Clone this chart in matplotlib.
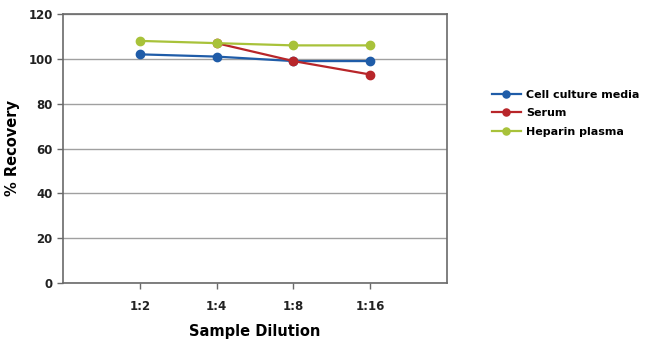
import matplotlib
matplotlib.use("Agg")
import matplotlib.pyplot as plt

plt.rcParams['font.family'] = ['DejaVu Sans']
plt.rcParams['font.weight'] = 'bold'

# 数据
dilutions = ["1:2", "1:4", "1:8", "1:16"]
cell_media = [102, 101, 99, 99]
serum = [float("nan"), 107, 99, 93]
heparin = [108, 107, 106, 106]

x = [1, 2, 3, 4]

fig = plt.figure(figsize=(6.5, 3.5), dpi=100)
ax = fig.add_axes([63 / 650, 1 - 283 / 350, 384 / 650, 269 / 350])

ax.plot(x, cell_media, color="#1f5ca8", marker="o", markersize=6, lw=1.6, label="Cell culture media")
ax.plot(x, serum, color="#b8262a", marker="o", markersize=6, lw=1.6, label="Serum")
ax.plot(x, heparin, color="#a8c23a", marker="o", markersize=6, lw=1.6, label="Heparin plasma")

ax.set_xlim(0, 5)
ax.set_ylim(0, 120)
ax.set_yticks(range(0, 121, 20))
ax.set_xticks(x)
ax.set_xticklabels(dilutions)
ax.yaxis.grid(True, color="#a0a0a0", lw=1)
ax.set_axisbelow(True)
for s in ax.spines.values():
    s.set_color("#6a6a6a")
    s.set_linewidth(1.2)
ax.tick_params(axis="both", colors="#222222", labelsize=8.5, length=4, width=1, color="#6a6a6a")
ax.tick_params(axis="x", pad=8)

ax.set_xlabel("Sample Dilution", fontsize=10.5, fontweight="bold", labelpad=8)
ax.set_ylabel("% Recovery", fontsize=10.5, fontweight="bold", labelpad=6)

# 图例
handles, labels = ax.get_legend_handles_labels()
fig.legend(handles, labels, loc="upper left", bbox_to_anchor=(482 / 650, 1 - 80 / 350),
           frameon=False, handlelength=2.6, handletextpad=0.5, labelspacing=0.75,
           markerscale=0.85, prop={"weight": "bold", "size": 8})

plt.savefig("out.png", dpi=100)
